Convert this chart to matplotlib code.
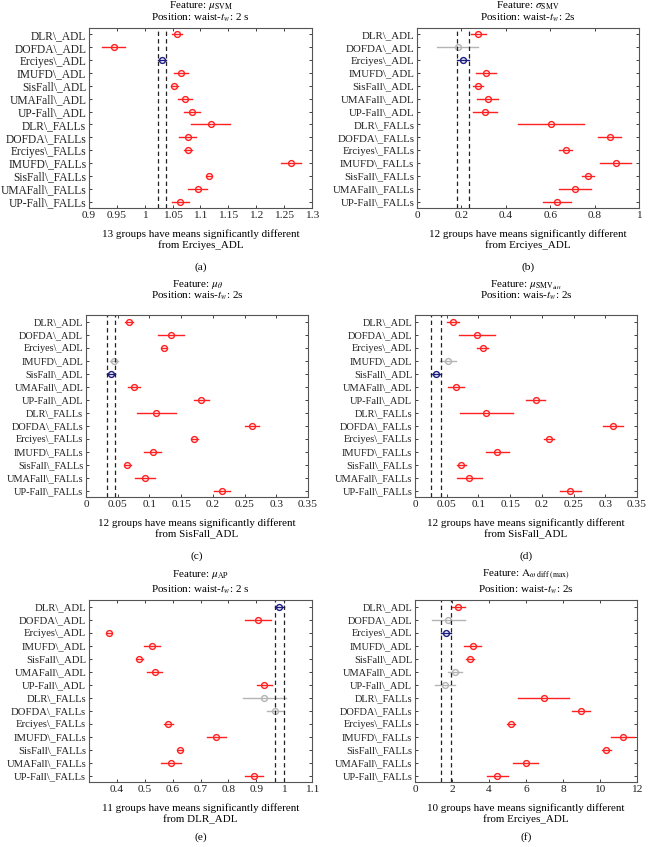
import numpy as np
import matplotlib
matplotlib.use("Agg")
import matplotlib.pyplot as plt

plt.rcParams['font.family'] = ['Liberation Serif', 'DejaVu Serif']
plt.rcParams['mathtext.fontset'] = 'stix'

groups = ["DLR\\_ADL", "DOFDA\\_ADL", "Erciyes\\_ADL", "IMUFD\\_ADL", "SisFall\\_ADL",
          "UMAFall\\_ADL", "UP-Fall\\_ADL", "DLR\\_FALLs", "DOFDA\\_FALLs", "Erciyes\\_FALLs",
          "IMUFD\\_FALLs", "SisFall\\_FALLs", "UMAFall\\_FALLs", "UP-Fall\\_FALLs"]

# group means and half-widths of the comparison intervals
mean_a = [1.058, 0.944, 1.031, 1.065, 1.053, 1.072, 1.085, 1.118, 1.077, 1.078, 1.262, 1.115, 1.095, 1.064]
half_a = [0.009, 0.020, 0.008, 0.013, 0.006, 0.013, 0.014, 0.035, 0.015, 0.007, 0.018, 0.006, 0.017, 0.016]
mean_b = [0.277, 0.183, 0.205, 0.310, 0.276, 0.318, 0.306, 0.604, 0.868, 0.670, 0.895, 0.770, 0.710, 0.630]
half_b = [0.034, 0.093, 0.027, 0.046, 0.023, 0.046, 0.055, 0.147, 0.053, 0.029, 0.070, 0.027, 0.072, 0.062]
mean_c = [0.0677, 0.134, 0.123, 0.0446, 0.0396, 0.0755, 0.182, 0.111, 0.261, 0.1705, 0.105, 0.065, 0.093, 0.2146]
half_c = [0.006, 0.021, 0.005, 0.0063, 0.006, 0.0097, 0.0118, 0.0307, 0.011, 0.0055, 0.014, 0.0052, 0.015, 0.0128]
mean_d = [0.0594, 0.0977, 0.1067, 0.052, 0.0336, 0.065, 0.1907, 0.1124, 0.312, 0.2118, 0.130, 0.073, 0.0857, 0.245]
half_d = [0.0097, 0.029, 0.0084, 0.0126, 0.0077, 0.013, 0.015, 0.042, 0.0155, 0.0079, 0.0187, 0.0074, 0.0202, 0.0168]
mean_e = [0.983, 0.906, 0.372, 0.526, 0.481, 0.535, 0.929, 0.929, 0.968, 0.585, 0.757, 0.627, 0.594, 0.893]
half_e = [0.016, 0.046, 0.011, 0.027, 0.012, 0.026, 0.027, 0.076, 0.029, 0.0155, 0.034, 0.012, 0.035, 0.033]
mean_f = [2.35, 1.81, 1.67, 3.11, 2.96, 2.17, 1.62, 6.97, 8.98, 5.17, 11.23, 10.33, 5.98, 4.45]
half_f = [0.33, 0.90, 0.27, 0.47, 0.22, 0.39, 0.52, 1.38, 0.49, 0.22, 0.63, 0.24, 0.66, 0.57]

# index of the reference group and groups not significantly different
ref = [2, 2, 4, 4, 0, 2]
same = [[], [1], [3], [3], [7, 8], [1, 5, 6]]

title1 = [
    "Feature: $\\mu_{\\mathrm{SVM}}$",
    "Feature: $\\sigma_{\\mathrm{SMV}}$",
    "Feature: $\\mu_{\\theta}$",
    "Feature: $\\mu_{\\mathrm{SMV}_{\\mathrm{diff}}}$",
    "Feature: $\\mu_{\\mathrm{AP}}$",
    "Feature: $\\mathrm{A}_{\\omega\\ \\mathrm{diff\\ (max)}}$",
]
title2 = [
    "Position: waist-$t_w$: 2 s",
    "Position: waist-$t_w$: 2s",
    "Position: wais-$t_w$: 2s",
    "Position: wais-$t_w$: 2s",
    "Position: waist-$t_w$: 2 s",
    "Position: waist-$t_w$: 2s",
]
xlabels = [
    "13 groups have means significantly different\nfrom Erciyes_ADL",
    "12 groups have means significantly different\nfrom Erciyes_ADL",
    "12 groups have means significantly different\nfrom SisFall_ADL",
    "12 groups have means significantly different\nfrom SisFall_ADL",
    "11 groups have means significantly different\nfrom DLR_ADL",
    "10 groups have means significantly different\nfrom Erciyes_ADL",
]
xlims = [(0.9, 1.3), (0, 1), (0, 0.35), (0, 0.35), (0.3, 1.1), (0, 12)]
xticks = [np.arange(0.9, 1.301, 0.05), np.arange(0, 1.01, 0.2), np.arange(0, 0.351, 0.05),
          np.arange(0, 0.351, 0.05), np.arange(0.4, 1.101, 0.1), np.arange(0, 12.1, 2)]
tags = ["(a)", "(b)", "(c)", "(d)", "(e)", "(f)"]

means = [mean_a, mean_b, mean_c, mean_d, mean_e, mean_f]
halfs = [half_a, half_b, half_c, half_d, half_e, half_f]

W, H = 648, 847
fig = plt.figure(figsize=(W / 100, H / 100), dpi=100)

# axes boxes in pixels: left, right, top, bottom
boxes = [(89, 312, 28, 208), (417, 639, 28, 208),
         (86, 308, 315, 497), (415, 637, 315, 497),
         (89, 312, 600, 782), (415, 637, 600, 782)]
# baselines of the two title lines and tag centre (pixels)
t1_y = [8, 8, 287, 287, 577, 577]
t2_y = [20, 20, 299, 299, 592, 592]
tag_y = [267, 267, 556, 556, 837, 837]
ylab_fs = [8.3, 7.8, 7.4, 7.5, 7.7, 7.5]

red = "#ff2020"
blue = "#1c1c80"
grey = "#b4b4b4"

for i in range(6):
    l, r, t, b = boxes[i]
    ax = fig.add_axes([l / W, 1 - b / H, (r - l) / W, (b - t) / H])
    m = np.array(means[i])
    h = np.array(halfs[i])
    y = np.arange(1, len(groups) + 1)
    for k in range(len(groups)):
        if k == ref[i]:
            c = blue
        elif k in same[i]:
            c = grey
        else:
            c = red
        ax.plot([m[k] - h[k], m[k] + h[k]], [y[k], y[k]], color=c, lw=1.0)
        ax.plot(m[k], y[k], marker="o", ms=4.2, mfc="none", mec=c, mew=1.0)
    lo = m[ref[i]] - h[ref[i]]
    hi = m[ref[i]] + h[ref[i]]
    ax.axvline(lo, color="#222222", ls=(0, (3.5, 2.5)), lw=0.9)
    ax.axvline(hi, color="#222222", ls=(0, (3.5, 2.5)), lw=0.9)
    ax.set_ylim(len(groups) + 0.5, 0.5)
    ax.set_yticks(y)
    ax.set_yticklabels(groups, fontsize=ylab_fs[i])
    ax.set_xlim(*xlims[i])
    ax.set_xticks(xticks[i])
    ax.set_xticklabels(["%g" % round(v, 3) for v in xticks[i]], fontsize=8.2)
    ax.tick_params(direction="in", top=True, right=True, length=2.5, width=0.6,
                   colors="#222222", pad=2)
    for s in ax.spines.values():
        s.set_color("#555555")
        s.set_linewidth(0.8)
    cx = (l + r) / 2 / W
    fig.text(cx, 1 - t1_y[i] / H, title1[i], ha="center", va="baseline", fontsize=8)
    fig.text(cx, 1 - t2_y[i] / H, title2[i], ha="center", va="baseline", fontsize=8)
    ax.set_xlabel(xlabels[i], fontsize=7.9, linespacing=1.2, labelpad=7)
    fig.text(cx, 1 - tag_y[i] / H, tags[i], ha="center", va="center", fontsize=8.2)

fig.savefig("out.png", dpi=100, facecolor="white")
